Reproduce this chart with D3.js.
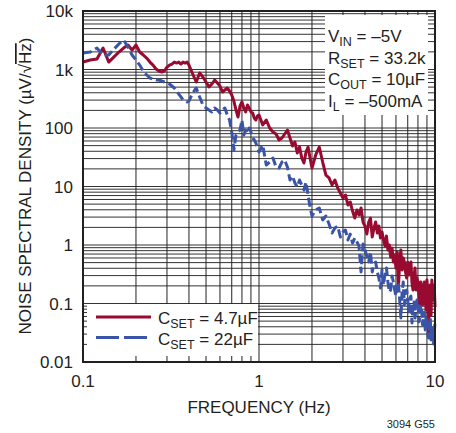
<!DOCTYPE html>
<html>
<head>
<meta charset="utf-8">
<script src="https://cdn.jsdelivr.net/npm/d3@7"></script>
<style>
  html, body { margin: 0; padding: 0; background: #fff; }
  svg { display: block; }
  text { font-family: "Liberation Sans Narrow", "Arial Narrow", "Liberation Sans", sans-serif; fill: #231f20; }
</style>
</head>
<body>
<svg id="chart" width="456" height="433"></svg>
<script>
// ---- data ----
const freq = [0.1,0.11,0.12,0.13,0.14,0.15,0.16,0.17,0.18,0.19,0.2,0.21,0.22,0.23,0.24,0.25,0.26,0.27,0.28,0.29,0.3,0.31,0.32,0.33,0.34,0.35,0.36,0.37,0.38,0.39,0.4,
  0.42,0.44,0.46,0.48,0.5,0.52,0.54,0.56,0.58,0.6,0.62,0.64,0.66,0.68,0.7,0.72,0.74,0.76,0.78,0.8,0.82,0.84,0.86,0.88,0.9,0.92,0.94,0.96,0.98,
  1.0,
  1.05,1.1,1.15,1.2,1.25,1.3,1.35,1.4,1.45,1.5,1.55,1.6,1.65,1.7,1.75,1.8,1.85,1.9,1.95,2.0,
  2.1,2.2,2.3,2.4,2.5,2.6,2.7,2.8,2.9,3.0,3.1,3.2,3.3,3.4,3.5,3.6,3.7,3.8,3.9,4.0,4.1,4.2,4.3,4.4,4.5,4.6,4.7,4.8,4.9,5.0,
  5.1,5.2,5.3,5.4,5.5,5.6,5.7,5.8,5.9,6.0,6.1,6.2,6.3,6.4,6.5,6.6,6.7,6.8,6.9,7.0,7.1,7.2,7.3,7.4,7.5,
  7.6,7.7,7.8,7.9,8.0,8.1,8.2,8.3,8.4,8.5,8.6,8.7,8.8,8.9,9.0,9.1,9.2,9.3,9.4,9.5,9.6,9.7,9.8,9.9,10.0];

const noiseCset4p7 = [1340,1450,1510,2330,1340,1640,1990,2330,2620,2150,2620,1990,1770,1570,1340,1190,1020,943,906,943,1100,1190,1240,1340,1290,1340,1240,1340,1290,1340,1190,
  838,611,871,745,611,502,565,662,588,522,412,446,483,429,367,289,203,154,238,278,220,188,247,220,188,180,148,137,160,
  167,
  113,137,100,85.4,79.0,62.4,67.5,79.0,92.4,67.5,49.2,57.6,37.4,47.3,30.7,25.2,38.9,47.3,30.7,20.7,
  34.6,47.3,26.2,15.7,14.0,10.6,12.9,9.43,7.74,6.36,7.16,4.83,5.43,3.81,2.89,3.97,3.26,4.29,2.47,2.11,1.54,2.47,2.89,1.37,1.95,2.47,1.60,2.11,1.32,1.67,
  1.22,0.961,1.42,0.821,1.00,0.624,0.889,0.512,0.675,0.404,0.759,0.191,0.512,0.821,0.374,0.600,0.512,0.346,0.273,0.512,0.307,0.404,0.512,0.224,0.170,
  0.295,0.404,0.170,0.273,0.233,0.140,0.0871,0.233,0.157,0.0943,0.191,0.233,0.115,0.0774,0.252,0.170,0.0313,0.115,0.207,0.0636,0.252,0.115,0.140,0.207,0.0871];

const noiseCset22 = [1910,1990,2330,1770,1770,2240,2730,3190,2420,1770,1450,1190,943,805,716,688,662,662,636,611,588,565,522,483,429,381,339,301,289,278,289,
  397,483,339,247,220,203,188,220,203,180,203,220,167,137,85.4,42.1,75.9,85.4,92.4,137,75.9,92.4,82.1,100,85.4,67.5,62.4,55.4,45.5,
  38.9,
  51.2,23.3,26.2,30.7,21.5,20.7,26.2,28.4,21.5,12.9,15.1,11.5,9.81,12.9,10.6,8.71,11.9,7.16,4.46,3.13,
  3.97,4.29,2.68,3.13,2.29,1.60,1.95,2.11,1.37,1.67,1.80,1.22,1.54,1.08,1.32,1.13,0.961,0.346,1.04,0.821,0.649,0.512,0.759,0.346,0.473,0.512,0.346,0.273,0.184,0.374,
  0.207,0.319,0.404,0.233,0.157,0.170,0.295,0.233,0.170,0.134,0.233,0.215,0.115,0.0565,0.157,0.233,0.0943,0.157,0.170,0.115,0.0716,0.124,0.134,0.0464,0.0906,
  0.106,0.0565,0.0838,0.115,0.0943,0.0483,0.0565,0.0943,0.0716,0.0429,0.0611,0.0716,0.0352,0.0611,0.0483,0.0289,0.0257,0.0483,0.0565,0.0238,0.0412,0.0352,0.0203,0.0278,0.0522];

const xTickValues = [0.1, 1, 10];
const xTickLabels = ["0.1", "1", "10"];
const yTickValues = [0.01, 0.1, 1, 10, 100, 1000, 10000];
const yTickLabels = ["0.01", "0.1", "1", "10", "100", "1k", "10k"];
const seriesNames = ["4.7µF", "22µF"];
const annotations = [["V", "IN", " = –5V"], ["R", "SET", " = 33.2k"], ["C", "OUT", " = 10µF"], ["I", "L", " = –500mA"]];

// ---- layout ----
const svg = d3.select("#chart");
const L = 83, R = 435, T = 11, B = 362;
const x = d3.scaleLog().domain([0.1, 10]).range([L, R]);
const y = d3.scaleLog().domain([0.01, 10000]).range([B, T]);
const red = "#990a30", blue = "#3a55a7";

// grid
const xMinor = [], yMinor = [];
[0.1, 1].forEach(d => { for (let k = 1; k <= 9; k++) xMinor.push(+(k * d).toPrecision(3)); });
xMinor.push(10);
[0.01, 0.1, 1, 10, 100, 1000].forEach(d => { for (let k = 1; k <= 9; k++) yMinor.push(+(k * d).toPrecision(3)); });
yMinor.push(10000);

const grid = svg.append("g");
grid.selectAll("line.h").data(yMinor).join("line")
  .attr("x1", L).attr("x2", R).attr("y1", d => y(d)).attr("y2", d => y(d))
  .attr("stroke", "#333").attr("stroke-width", 1);
grid.selectAll("line.v").data(xMinor).join("line")
  .attr("y1", T).attr("y2", B).attr("x1", d => x(d)).attr("x2", d => x(d))
  .attr("stroke", "#222").attr("stroke-width", 1);

// series
const line = d3.line().x((d, i) => x(freq[i])).y(d => y(d));
svg.append("path").datum(noiseCset4p7).attr("d", line)
  .attr("fill", "none").attr("stroke", red).attr("stroke-width", 3).attr("stroke-linejoin", "round");
svg.append("path").datum(noiseCset22).attr("d", line)
  .attr("fill", "none").attr("stroke", blue).attr("stroke-width", 3).attr("stroke-linejoin", "round")
  .attr("stroke-dasharray", "9,4");

// frame
svg.append("rect").attr("x", L).attr("y", T).attr("width", R - L).attr("height", B - T)
  .attr("fill", "none").attr("stroke", "#231f20").attr("stroke-width", 2);

// annotation box
svg.append("rect").attr("x", 325).attr("y", 15).attr("width", 103).attr("height", 100).attr("fill", "#fff");
const ann = svg.append("g");
annotations.forEach((a, i) => {
  const t = ann.append("text").attr("x", 328).attr("y", 42 + i * 21.5).attr("font-size", 17);
  t.append("tspan").text(a[0]);
  t.append("tspan").attr("dy", 4).attr("font-size", 12.5).text(a[1]);
  t.append("tspan").attr("dy", -4).text(a[2]);
});

// legend box
svg.append("rect").attr("x", 87).attr("y", 304).attr("width", 171).attr("height", 52).attr("fill", "#fff");
const leg = svg.append("g");
[[red, null, 317, 324], [blue, "23,5", 337.5, 345]].forEach((s, i) => {
  leg.append("line").attr("x1", 96).attr("x2", 151).attr("y1", s[2]).attr("y2", s[2])
    .attr("stroke", s[0]).attr("stroke-width", 3).attr("stroke-dasharray", s[1]);
  const t = leg.append("text").attr("x", 158).attr("y", s[3]).attr("font-size", 17);
  t.append("tspan").text("C");
  t.append("tspan").attr("dy", 4).attr("font-size", 12.5).text("SET");
  t.append("tspan").attr("dy", -4).text(" = " + seriesNames[i]);
});

// axes tick labels
svg.append("g").selectAll("text").data(yTickValues).join("text")
  .attr("x", 73).attr("y", d => y(d) + 6).attr("text-anchor", "end").attr("font-size", 17)
  .text((d, i) => yTickLabels[i]);
svg.append("g").selectAll("text").data(xTickValues).join("text")
  .attr("x", d => x(d)).attr("y", 387).attr("text-anchor", "middle").attr("font-size", 17)
  .text((d, i) => xTickLabels[i]);

// axis titles
svg.append("text").attr("x", 259).attr("y", 413).attr("text-anchor", "middle").attr("font-size", 17)
  .text("FREQUENCY (Hz)");
const yt = svg.append("text").attr("transform", "translate(31,186) rotate(-90)")
  .attr("text-anchor", "middle").attr("font-size", 17);
yt.append("tspan").text("NOISE SPECTRAL DENSITY (µV/√");
yt.append("tspan").style("text-decoration", "overline").text("Hz");
yt.append("tspan").text(")");

svg.append("text").attr("x", 435).attr("y", 428).attr("text-anchor", "end").attr("font-size", 11)
  .text("3094 G55");
</script>
</body>
</html>
